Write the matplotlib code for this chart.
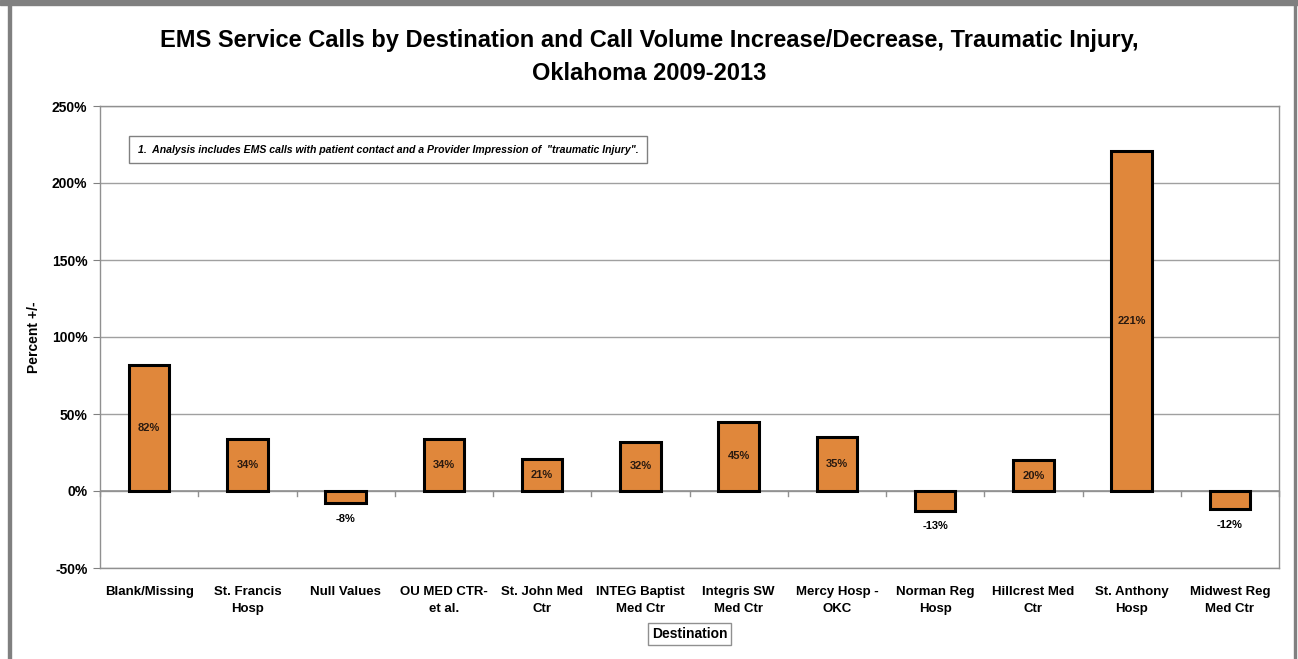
import matplotlib.pyplot as plt
from matplotlib.patches import Rectangle

destinations = ['Blank/Missing', 'St. Francis\nHosp', 'Null Values', 'OU MED CTR-\net al.',
                'St. John Med\nCtr', 'INTEG Baptist\nMed Ctr', 'Integris SW\nMed Ctr',
                'Mercy Hosp -\nOKC', 'Norman Reg\nHosp', 'Hillcrest Med\nCtr',
                'St. Anthony\nHosp', 'Midwest Reg\nMed Ctr']
pct_change = [82, 34, -8, 34, 21, 32, 45, 35, -13, 20, 221, -12]
y_ticks = [-50, 0, 50, 100, 150, 200, 250]

plt.rcParams['font.family'] = ['Liberation Sans Narrow', 'Liberation Sans', 'DejaVu Sans']

fig = plt.figure(figsize=(12.98, 6.59), dpi=100)
ax = fig.add_axes([100 / 1298, 1 - 568 / 659, 1179 / 1298, 462 / 659])

# outer frame like the exported sheet
fig.patches.append(Rectangle((0, 1 - 5 / 659), 1, 5 / 659, transform=fig.transFigure,
                             color='#808080', zorder=0))
fig.patches.append(Rectangle((8 / 1298, 0), 3 / 1298, 1, transform=fig.transFigure,
                             color='#808080', zorder=0))
fig.patches.append(Rectangle((1294 / 1298, 0), 2 / 1298, 1, transform=fig.transFigure,
                             color='#808080', zorder=0))

x = list(range(len(destinations)))
ax.bar(x, pct_change, width=0.41, color='#E0873B', edgecolor='black', linewidth=2.2, zorder=3)

for i, v in enumerate(pct_change):
    if v > 0:
        ax.text(i, v / 2, f'{v}%', ha='center', va='center', fontsize=8,
                fontweight='bold', color='#2a1a10', zorder=4)
    else:
        ax.text(i, v - 10, f'{v}%', ha='center', va='center', fontsize=8,
                fontweight='bold', color='black', zorder=4)

ax.set_xlim(-0.5, len(destinations) - 0.5)
ax.set_ylim(-50, 250)
ax.set_yticks(y_ticks)
ax.set_yticklabels([f'{t}%' for t in y_ticks], fontsize=10, fontweight='bold')
ax.yaxis.grid(True, color='#a0a0a0', linewidth=1, zorder=0)
ax.tick_params(axis='y', length=5, color='#808080', pad=4)

ax.set_xticks(x)
ax.set_xticklabels(destinations, fontsize=9.5, fontweight='bold', linespacing=1.5)
ax.tick_params(axis='x', length=0, pad=13)

# zero line with category-boundary ticks
ax.axhline(0, color='#909090', linewidth=1.2, zorder=2)
for b in range(len(destinations) + 1):
    ax.plot([b - 0.5, b - 0.5], [0, -3], color='#909090', linewidth=1, zorder=2,
            clip_on=False)

for s in ax.spines.values():
    s.set_color('#909090')
    s.set_linewidth(1)

ax.set_ylabel('Percent +/-', fontsize=10, fontweight='bold', labelpad=8)
ax.set_xlabel('Destination', fontsize=10, fontweight='bold', labelpad=9,
              bbox=dict(boxstyle='square,pad=0.3', fc='white', ec='#909090', lw=1))

fig.text(0.5, 1 - 40 / 659, 'EMS Service Calls by Destination and Call Volume Increase/Decrease, Traumatic Injury,',
         ha='center', va='center', fontsize=17, fontweight='bold')
fig.text(0.5, 1 - 74 / 659, 'Oklahoma 2009-2013', ha='center', va='center',
         fontsize=17, fontweight='bold')

ax.text(0.032, 0.905, '1.  Analysis includes EMS calls with patient contact and a Provider Impression of  "traumatic Injury".',
        transform=ax.transAxes, fontsize=7.6, fontstyle='italic', fontweight='bold', va='center',
        bbox=dict(boxstyle='square,pad=0.8', fc='white', ec='#808080', lw=1), zorder=5)

fig.savefig('out.png', dpi=100)
